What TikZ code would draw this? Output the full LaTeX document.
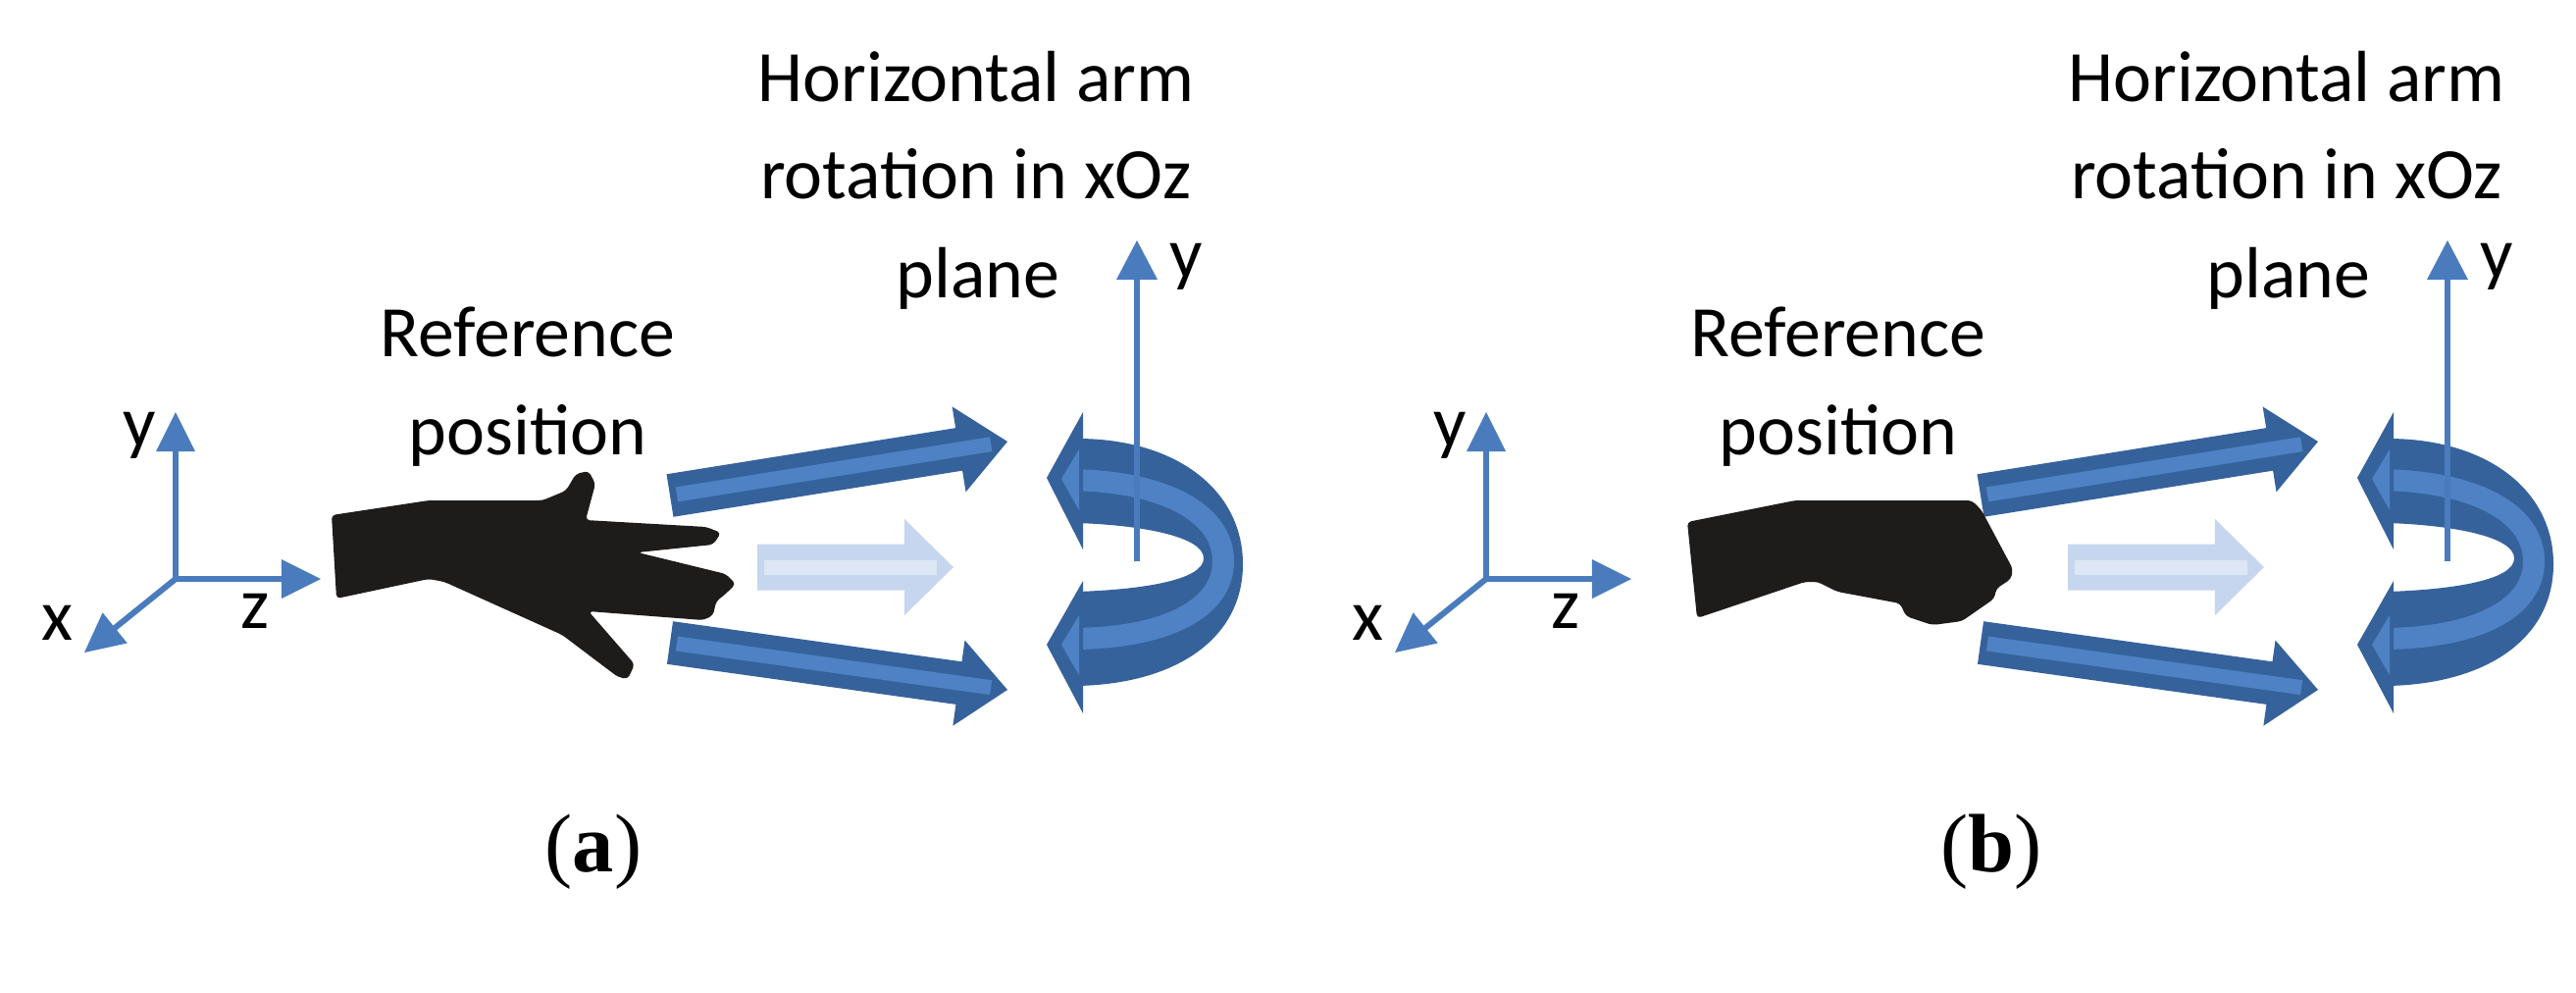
\documentclass[tikz,border=0pt]{standalone}
\usepackage{fontspec}
\setmainfont{Carlito}
\newfontfamily\capfont{Liberation Serif}
\usetikzlibrary{calc}
\definecolor{axblue}{HTML}{4A7CBD}
\definecolor{dkblue}{HTML}{36629C}
\definecolor{mdblue}{HTML}{4E82C4}
\definecolor{ltblue}{HTML}{C6D6EE}
\definecolor{llblue}{HTML}{DCE6F4}
\definecolor{handc}{HTML}{1E1B1B}
\newcommand\fatarrow[6]{% start, tip, dark, light, half shaft, half head
 \coordinate (fah) at ($(#2)!0.5cm!(#1)$);
 \fill[#3] ($(#1)!#5!90:(#2)$) -- ($(fah)!#5!-90:(#1)$) -- ($(fah)!#6!-90:(#1)$) -- (#2) -- ($(fah)!#6!90:(#1)$) -- ($(fah)!#5!90:(#1)$) -- ($(#1)!#5!-90:(#2)$) -- cycle;
 \draw[#4, line width=0.15cm] ($(#1)!0.07cm!(#2)$) -- ($(#2)!0.17cm!(#1)$);}
\tikzset{
 txt/.style={font=\fontsize{21}{25}\selectfont, inner sep=0pt, anchor=base},
 axis/.style={draw=axblue, line width=0.06cm},
 axhead/.style={fill=axblue},
 hand/.style={fill=handc, rounded corners=0.04cm},
}
\newcommand\axes[1]{%
 \begin{scope}[xshift=#1*0.01cm]
 \coordinate (o) at (179,590); \coordinate (ty) at (179,420); \coordinate (tz) at (327,590); \coordinate (tx) at (86,665);
 \draw[axis] (o) -- ($(ty)!0.35cm!(o)$); \draw[axis] (o) -- ($(tz)!0.35cm!(o)$); \draw[axis] (o) -- ($(tx)!0.3cm!(o)$);
 \fill[axhead] (ty) -- ($(ty)!0.4cm!(o)!0.2cm!90:(o)$) -- ($(ty)!0.4cm!(o)!0.2cm!-90:(o)$) -- cycle;
 \fill[axhead] (tz) -- ($(tz)!0.4cm!(o)!0.2cm!90:(o)$) -- ($(tz)!0.4cm!(o)!0.2cm!-90:(o)$) -- cycle;
 \fill[axhead] (tx) -- ($(tx)!0.4cm!(o)!0.2cm!90:(o)$) -- ($(tx)!0.4cm!(o)!0.2cm!-90:(o)$) -- cycle;
 \node[txt] (ly) at (142,455) {y};
 \node[txt] (lz) at (260,640) {z};
 \node[txt] (lx) at (58,652) {x};
 \end{scope}}
\newcommand\rot[1]{%
 \begin{scope}[xshift=#1*0.01cm]
 \node[txt] (h1) at (995,103) {Horizontal arm};
 \node[txt] (h2) at (995,202) {rotation in xOz};
 \node[txt] (h3) at (997,303) {plane};
 \coordinate (s1) at (683,505); \coordinate (t1) at (1027,450);
 \coordinate (s2) at (683,655); \coordinate (t2) at (1027,703);
 \coordinate (s3) at (772,578); \coordinate (t3) at (972,578);
 \fatarrow{s1}{t1}{dkblue}{mdblue}{0.22cm}{0.44cm}
 \fatarrow{s2}{t2}{dkblue}{mdblue}{0.22cm}{0.44cm}
 \fatarrow{s3}{t3}{ltblue}{llblue}{0.235cm}{0.49cm}
 \fill[dkblue] (1098,447) .. controls (1200,447) and (1267,500) .. (1267,575) .. controls (1267,650) and (1200,697) .. (1098,699)
   -- (1098,603) .. controls (1160,601) and (1227,592) .. (1227,569) .. controls (1227,546) and (1160,535) .. (1098,533) -- cycle;
 \draw[mdblue, line width=0.22cm] (1085,489) .. controls (1185,489) and (1247,522) .. (1247,572) .. controls (1247,622) and (1185,652) .. (1085,651);
 \fill[dkblue] (1067,487) -- (1104,420) -- (1104,560) -- cycle;
 \fill[dkblue] (1067,657) -- (1104,592) -- (1104,727) -- cycle;
 \fill[mdblue] (1082,488) -- (1100,458) -- (1100,520) -- cycle;
 \fill[mdblue] (1082,657) -- (1100,627) -- (1100,688) -- cycle;
 \coordinate (yb) at (1159,572); \coordinate (yt) at (1159,245);
 \draw[axis] (yb) -- ($(yt)!0.35cm!(yb)$);
 \fill[axhead] (yt) -- ($(yt)!0.4cm!(yb)!0.21cm!90:(yb)$) -- ($(yt)!0.4cm!(yb)!0.21cm!-90:(yb)$) -- cycle;
 \node[txt] (ly2) at (1209,283) {y};
 \node[txt] (r1) at (538,363) {Reference};
 \node[txt] (r2) at (538,463) {position};
 \end{scope}}
\begin{document}
\begin{tikzpicture}[x=0.01cm,y=-0.01cm]
\useasboundingbox[fill=white] (0,0) rectangle (2626,1011);
\axes{0}\axes{1336}
\rot{0}\rot{1336}
\fill[hand] (338,525) -- (437,510) -- (553,510) -- (577,500) -- (587,483) -- (600,480) -- (607,493) -- (597,530) -- (720,537) -- (735,543) -- (727,555) -- (650,563) -- (740,585) -- (750,595) -- (740,605) -- (730,613) -- (727,627) -- (717,632) -- (600,623) -- (647,677) -- (640,692) -- (630,690) -- (573,647) -- (453,593) -- (437,590) -- (343,610) -- cycle;
\fill[hand] (1720,532) -- (1830,510) -- (2010,510) -- (2020,520) -- (2052,580) -- (2050,590) -- (2035,600) -- (2033,610) -- (2000,633) -- (1970,637) -- (1943,628) -- (1937,615) -- (1873,603) -- (1853,593) -- (1840,593) -- (1730,630) -- cycle;
\node[txt, font=\capfont\fontsize{24}{28}\selectfont] (ca) at (605,888) {(\textbf{a})};
\node[txt, font=\capfont\fontsize{24}{28}\selectfont] (cb) at (2030,888) {(\textbf{b})};
\end{tikzpicture}
\end{document}
